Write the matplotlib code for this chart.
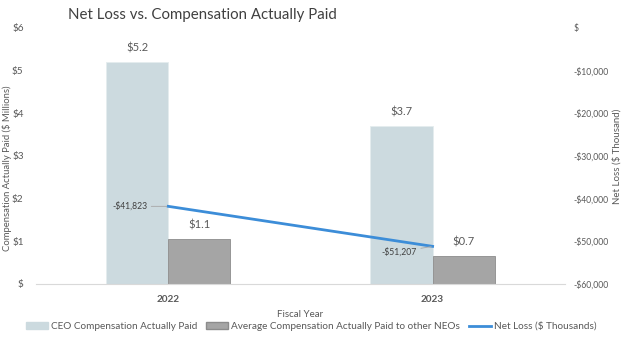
import matplotlib
matplotlib.use("Agg")
import numpy as np
import matplotlib.pyplot as plt
from matplotlib.lines import Line2D
from matplotlib.patches import Patch

plt.rcParams.update({"font.family": ["Lato", "DejaVu Sans"], "font.size": 7})
TXT = "#595959"

years = ["2022", "2023"]
ceo_cap = [5.2, 3.7]
neo_cap = [1.05, 0.65]
ceo_labels = ["$5.2", "$3.7"]
neo_labels = ["$1.1", "$0.7"]
net_loss = [-41823, -51207]
net_loss_labels = ["-$41,823", "-$51,207"]

fig = plt.figure(figsize=(6.22, 3.5), dpi=100)
ax = fig.add_axes([0.058, 0.189, 0.85, 0.731])
x = np.arange(len(years))
w = 0.235

ax.bar(x - w / 2, ceo_cap, w, color="#CCDADF", edgecolor="#E4ECEE", lw=0.6, zorder=2)
ax.bar(x + w / 2, neo_cap, w, color="#A5A5A5", edgecolor="#8C8C8C", lw=0.6, zorder=2)
for xi, v, s in zip(x - w / 2, ceo_cap, ceo_labels):
    ax.text(xi, v + 0.2, s, ha="center", va="bottom", fontsize=8, color=TXT)
for xi, v, s in zip(x + w / 2, neo_cap, neo_labels):
    ax.text(xi, v + 0.2, s, ha="center", va="bottom", fontsize=8, color=TXT)

ax.set_xlim(-0.5, 1.5)
ax.set_ylim(0, 6)
ax.set_yticks(range(7))
ax.set_yticklabels(["$"] + [f"${i}" for i in range(1, 7)], color=TXT)
ax.set_xticks(x)
ax.set_xticklabels(years, fontweight="bold", color="#404040", fontsize=7)
ax.tick_params(length=0, colors=TXT, labelsize=7.2)
ax.tick_params(axis="y", pad=9)
ax.tick_params(axis="x", pad=8)
for sp in ["top", "right", "left"]:
    ax.spines[sp].set_visible(False)
ax.spines["bottom"].set_color("#D9D9D9")
ax.set_xlabel("Fiscal Year", color=TXT, fontsize=7, labelpad=4)
ax.set_ylabel("Compensation Actually Paid ($ Millions)", color=TXT, fontsize=6.8)
ax.yaxis.set_label_coords(-0.046, 0.45)

ax2 = ax.twinx()
ax2.plot(x, net_loss, color="#3C8DD8", lw=2, zorder=3)
ax2.set_ylim(-60000, 0)
ticks = np.arange(-60000, 1, 10000)
ax2.set_yticks(ticks)
ax2.set_yticklabels([f"-${abs(t):,}" if t else "$" for t in ticks])
ax2.tick_params(length=0, colors=TXT, labelsize=6.2, pad=6)
for sp in ax2.spines.values():
    sp.set_visible(False)
ax2.set_ylabel("Net Loss ($ Thousand)", color=TXT, fontsize=7, labelpad=3)

offsets = [(-0.08, 0), (-0.06, -1300)]
for xi, v, s, (dx, dy) in zip(x, net_loss, net_loss_labels, offsets):
    ax2.annotate(s, xy=(xi, v), xytext=(xi + dx, v + dy), ha="right", va="center",
                 fontsize=6.2, color="#404040",
                 arrowprops=dict(arrowstyle="-", color="#A6A6A6", lw=0.6, shrinkA=1, shrinkB=1))

fig.text(0.109, 0.958, "Net Loss vs. Compensation Actually Paid", fontsize=10.8,
         color="#404040", va="center")

handles = [Patch(color="#CCDADF"), Patch(color="#A5A5A5", ec="#8C8C8C"),
           Line2D([], [], color="#3C8DD8", lw=2)]
labels = ["CEO Compensation Actually Paid", "Average Compensation Actually Paid to other NEOs",
          "Net Loss ($ Thousands)"]
fig.legend(handles, labels, loc="center", bbox_to_anchor=(0.5, 0.068), ncol=3, frameon=False,
           fontsize=7.2, labelcolor=TXT, handlelength=2.2, handleheight=0.6,
           handletextpad=0.3, columnspacing=0.9)

fig.savefig("out.png", dpi=100, facecolor="white")
